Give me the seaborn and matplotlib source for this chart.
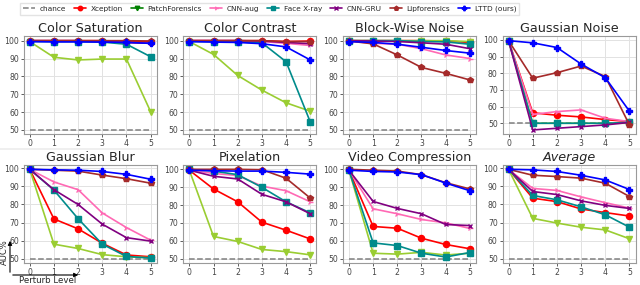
import pandas as pd
import matplotlib.pyplot as plt
import seaborn as sns
from matplotlib.lines import Line2D
from matplotlib.patches import FancyArrowPatch

levels = [0, 1, 2, 3, 4, 5]
methods = ['Xception', 'PatchForensics', 'CNN-aug', 'Face X-ray', 'CNN-GRU', 'Lipforensics', 'LTTD (ours)']
titles = ['Color Saturation', 'Color Contrast', 'Block-Wise Noise', 'Gaussian Noise',
          'Gaussian Blur', 'Pixelation', 'Video Compression', 'Average']

# AUC% per perturbation, one list per method (order = methods)
color_saturation = [
    [100, 100, 100, 100, 99.5, 99.5],
    [99.5, 90.7, 89.2, 89.7, 89.7, 60.2],
    [99.8, 99.8, 99.8, 99.5, 99.0, 98.5],
    [99.5, 99.5, 99.5, 99.2, 98.0, 91.0],
    [100, 100, 100, 99.5, 99.0, 98.5],
    [100, 100, 100, 100, 100, 99.8],
    [99.5, 99.3, 99.3, 99.2, 99.0, 98.5],
]
color_contrast = [
    [100, 100, 100, 100, 99.5, 99.8],
    [99.5, 92.3, 80.5, 72.3, 65.2, 60.5],
    [100, 100, 100, 99.5, 98.5, 97.3],
    [99.5, 99.5, 99.3, 98.8, 88.2, 54.5],
    [100, 100, 100, 99.8, 99.0, 98.3],
    [100, 100, 100, 100, 99.5, 99.5],
    [99.5, 99.2, 99.0, 98.3, 96.5, 89.2],
]
block_wise_noise = [
    [100, 100, 100, 100, 99.8, 99.0],
    [100, 100, 100, 100, 100, 99.5],
    [99.8, 98.5, 98.0, 95.5, 92.0, 90.0],
    [100, 100, 100, 99.5, 99.3, 98.0],
    [100, 99.8, 99.5, 98.8, 98.0, 95.5],
    [99.8, 98.2, 92.0, 85.0, 81.7, 78.0],
    [99.5, 99.0, 98.0, 96.3, 94.5, 93.0],
]
gaussian_noise = [
    [99.5, 56.3, 54.8, 53.8, 52.2, 51.0],
    [99.5, 50.0, 50.0, 50.0, 50.0, 50.0],
    [99.5, 55.3, 57.0, 58.0, 53.0, 51.0],
    [99.5, 50.0, 50.0, 50.0, 50.0, 50.5],
    [99.5, 46.0, 47.0, 48.0, 49.0, 50.5],
    [99.5, 77.0, 80.3, 84.3, 78.0, 49.0],
    [99.5, 98.2, 95.4, 85.5, 77.3, 57.2],
]
gaussian_blur = [
    [99.5, 72.0, 66.5, 58.5, 52.0, 51.0],
    [99.5, 58.0, 55.6, 52.2, 51.0, 50.5],
    [99.5, 92.5, 88.2, 75.3, 67.2, 60.2],
    [99.5, 88.0, 72.1, 58.0, 51.2, 50.3],
    [99.5, 88.2, 80.0, 69.1, 61.6, 59.7],
    [99.5, 99.0, 98.5, 96.3, 94.3, 91.8],
    [99.5, 99.2, 99.0, 98.3, 96.7, 94.0],
]
pixelation = [
    [99.5, 89.0, 81.8, 70.4, 65.9, 61.0],
    [99.5, 62.4, 59.6, 55.1, 53.9, 52.1],
    [99.5, 97.7, 96.5, 90.6, 88.0, 81.8],
    [100, 99.0, 97.0, 89.9, 81.8, 75.6],
    [99.5, 96.1, 94.6, 86.0, 81.8, 75.1],
    [100, 100, 100, 99.8, 95.0, 83.9],
    [99.5, 99.2, 99.0, 99.0, 98.3, 97.3],
]
video_compression = [
    [99.5, 68.0, 67.0, 61.4, 57.9, 55.5],
    [99.5, 53.0, 52.5, 53.5, 52.0, 53.0],
    [99.5, 77.9, 75.1, 71.9, 70.0, 66.9],
    [99.5, 58.8, 57.3, 53.0, 50.9, 53.4],
    [99.5, 82.0, 78.1, 75.1, 69.1, 68.5],
    [100, 99.5, 99.0, 97.0, 92.5, 89.0],
    [99.5, 98.8, 98.5, 97.0, 92.3, 88.0],
]
average = [
    [99.5, 83.5, 81.6, 77.5, 75.5, 73.6],
    [99.5, 72.3, 69.7, 67.4, 65.9, 61.0],
    [99.5, 88.9, 87.8, 84.2, 81.0, 78.0],
    [99.5, 85.0, 82.6, 78.7, 74.3, 67.4],
    [99.5, 87.2, 85.5, 82.0, 79.5, 77.8],
    [99.5, 96.2, 95.5, 94.6, 91.8, 84.4],
    [99.5, 99.2, 98.3, 96.2, 93.6, 88.3],
]
panels = [color_saturation, color_contrast, block_wise_noise, gaussian_noise,
          gaussian_blur, pixelation, video_compression, average]
chance = 50

palette = {'Xception': 'red', 'PatchForensics': 'yellowgreen', 'CNN-aug': 'hotpink',
           'Face X-ray': 'darkcyan', 'CNN-GRU': 'purple', 'Lipforensics': 'brown',
           'LTTD (ours)': 'blue'}
marks = {'Xception': 'o', 'PatchForensics': 'v', 'CNN-aug': '4', 'Face X-ray': 's',
         'CNN-GRU': 'x', 'Lipforensics': 'p', 'LTTD (ours)': 'P'}
sizes = {'CNN-GRU': 3.2, 'Lipforensics': 3.8}
legend_colors = dict(palette, PatchForensics='green')

sns.set_theme(style='whitegrid')
plt.rcParams['font.family'] = ['DejaVu Sans']
plt.rcParams.update({'axes.edgecolor': '#9a9a9a', 'axes.linewidth': 0.8,
                     'grid.color': '#e2e2e2', 'grid.linewidth': 0.7,
                     'xtick.bottom': True, 'ytick.left': True,
                     'xtick.major.size': 2, 'ytick.major.size': 2,
                     'xtick.major.width': 0.6, 'ytick.major.width': 0.6,
                     'xtick.color': '#444444', 'ytick.color': '#444444',
                     'xtick.major.pad': 1.5, 'ytick.major.pad': 1.5})

fig, axes = plt.subplots(2, 4, figsize=(6.4, 2.85), dpi=100)
plt.subplots_adjust(left=0.037, right=0.993, top=0.873, bottom=0.077, wspace=0.2, hspace=0.31)

for ax, title, vals in zip(axes.flat, titles, panels):
    ax.plot(levels, [chance] * len(levels), ls='--', color='gray', lw=1.1, zorder=1)
    for m, ys in zip(methods, vals):
        df = pd.DataFrame({'level': levels, 'auc': ys})
        sns.lineplot(data=df, x='level', y='auc', color=palette[m], marker=marks[m], ax=ax,
                     linewidth=1.2, markersize=sizes.get(m, 4.4), markeredgewidth=1.0,
                     markeredgecolor=palette[m])
    ax.set_title(title, fontsize=9.2, pad=3, style='italic' if title == 'Average' else 'normal')
    ax.set_xlabel('')
    ax.set_ylabel('')
    ax.set_xticks(levels)
    ax.set_yticks([50, 60, 70, 80, 90, 100])
    ax.tick_params(labelsize=5.6)

# legend on top
handles = [Line2D([], [], ls='--', color='gray', lw=1.1, label='chance')]
for m in methods:
    handles.append(Line2D([], [], color=legend_colors[m], marker=marks[m], lw=1.2,
                          markersize=3.2, label=m))
fig.legend(handles=handles, loc='upper left', bbox_to_anchor=(0.026, 1.003), ncol=8,
           fontsize=5.3, frameon=True, handlelength=1.6, columnspacing=1.15,
           handletextpad=0.6, borderpad=0.4, edgecolor='#dddddd', fancybox=False)

# panel separator line
fig.add_artist(Line2D([0, 1], [1 - 149 / 285, 1 - 149 / 285], color='#ececec', lw=1.2))

# axis hint arrows in lower left
fig.add_artist(FancyArrowPatch((10 / 640, 1 - 275 / 285), (10 / 640, 1 - 238 / 285),
               arrowstyle='-|>', mutation_scale=6, color='black', lw=0.8, transform=fig.transFigure))
fig.add_artist(FancyArrowPatch((10 / 640, 1 - 275 / 285), (81 / 640, 1 - 275 / 285),
               arrowstyle='-|>', mutation_scale=6, color='black', lw=0.8, transform=fig.transFigure))
fig.text(4.5 / 640, 1 - 252 / 285, 'AUC%', rotation=90, fontsize=6, ha='center', va='center')
fig.text(48 / 640, 1 - 280.5 / 285, 'Perturb Level', fontsize=6.2, ha='center', va='center')

fig.savefig('out.png', dpi=100)
